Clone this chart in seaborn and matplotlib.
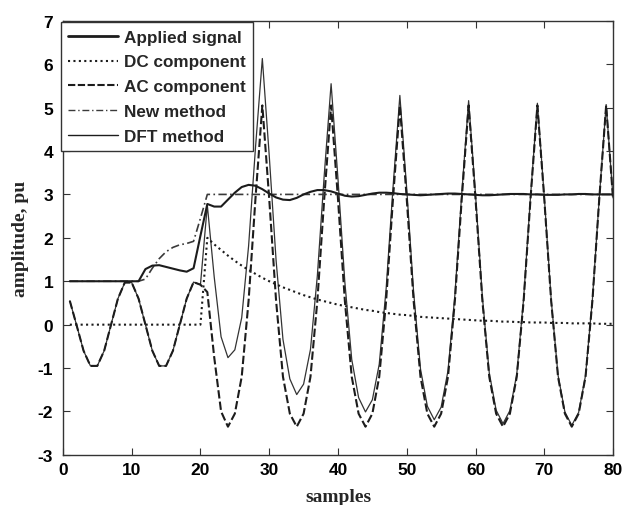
import numpy as np
import pandas as pd
import matplotlib
matplotlib.use("Agg")
import matplotlib.pyplot as plt
import seaborn as sns
from matplotlib.lines import Line2D

# sample index
samples = np.arange(1, 81)

# values
applied = [0.55, -0.02, -0.6, -0.95, -0.95, -0.6, 0.0, 0.6, 0.97, 0.97,
           0.6, 0.0, -0.6, -0.95, -0.95, -0.6, 0.0, 0.6, 0.98, 0.92,
           2.75, 1.10, -0.28, -0.76, -0.58, 0.16, 1.81, 4.07, 6.13, 3.90,
           1.48, -0.34, -1.25, -1.61, -1.37, -0.57, 1.13, 3.44, 5.55, 3.36,
           0.98, -0.80, -1.68, -2.01, -1.73, -0.91, 0.82, 3.15, 5.28, 3.12,
           0.75, -1.02, -1.88, -2.19, -1.90, -1.06, 0.68, 3.02, 5.16, 3.00,
           0.64, -1.11, -1.97, -2.28, -1.98, -1.14, 0.61, 2.95, 5.10, 2.95,
           0.59, -1.16, -2.01, -2.32, -2.02, -1.17, 0.58, 2.92, 5.07, 2.92]

dc_component = [0.0] * 20 + [
    2.00, 1.85, 1.72, 1.59, 1.47, 1.36, 1.26, 1.17, 1.08, 1.00,
    0.93, 0.86, 0.80, 0.74, 0.68, 0.63, 0.58, 0.54, 0.50, 0.46,
    0.43, 0.40, 0.37, 0.34, 0.32, 0.29, 0.27, 0.25, 0.23, 0.22,
    0.20, 0.18, 0.17, 0.16, 0.15, 0.14, 0.13, 0.12, 0.11, 0.10,
    0.09, 0.09, 0.08, 0.07, 0.07, 0.06, 0.06, 0.05, 0.05, 0.05,
    0.04, 0.04, 0.04, 0.03, 0.03, 0.03, 0.03, 0.02, 0.02, 0.02]

ac_component = [0.55, -0.02, -0.6, -0.95, -0.95, -0.6, 0.0, 0.6, 0.97, 0.97,
                0.6, 0.0, -0.6, -0.95, -0.95, -0.6, 0.0, 0.6, 0.98, 0.92,
                0.75, -0.75, -2.0, -2.35, -2.05, -1.2, 0.55, 2.9, 5.05, 2.9,
                0.55, -1.2, -2.05, -2.35, -2.05, -1.2, 0.55, 2.9, 5.05, 2.9,
                0.55, -1.2, -2.05, -2.35, -2.05, -1.2, 0.55, 2.9, 5.05, 2.9,
                0.55, -1.2, -2.05, -2.35, -2.05, -1.2, 0.55, 2.9, 5.05, 2.9,
                0.55, -1.2, -2.05, -2.35, -2.05, -1.2, 0.55, 2.9, 5.05, 2.9,
                0.55, -1.2, -2.05, -2.35, -2.05, -1.2, 0.55, 2.9, 5.05, 2.9]

new_method = [1.0] * 11 + [1.05, 1.3, 1.52, 1.68, 1.78, 1.84, 1.87, 1.92, 2.45] + [3.0] * 60

dft_method = [1.0] * 11 + [
    1.28, 1.36, 1.37, 1.33, 1.29, 1.25, 1.22, 1.30, 2.05,
    2.78, 2.72, 2.72, 2.88, 3.04, 3.17, 3.22, 3.20, 3.12, 3.02,
    2.93, 2.88, 2.87, 2.92, 3.00, 3.06, 3.10, 3.10, 3.07, 3.02,
    2.97, 2.95, 2.96, 2.99, 3.02, 3.04, 3.04, 3.03, 3.01, 3.00,
    2.99, 2.98, 2.99, 3.00, 3.01, 3.02, 3.02, 3.01, 3.00, 2.99,
    2.98, 2.98, 2.99, 3.00, 3.01, 3.01, 3.01, 3.00, 3.00, 2.99,
    2.99, 2.99, 3.00, 3.00, 3.01, 3.01, 3.00, 3.00, 3.00, 3.00]

labels = ["Applied signal", "DC component", "AC component", "New method", "DFT method"]

df = pd.DataFrame({
    "samples": samples,
    "applied": applied,
    "dc": dc_component,
    "ac": ac_component,
    "new": new_method,
    "dft": dft_method,
})

sns.set_style("ticks")
plt.rcParams["font.family"] = ["Liberation Sans", "DejaVu Sans"]
plt.rcParams["axes.unicode_minus"] = False

fig = plt.figure(figsize=(6.23, 5.06), dpi=100)
ax = fig.add_axes([0.101, 0.099, 0.883, 0.858])

ink = "#1c1c1c"
sns.lineplot(data=df, x="samples", y="applied", ax=ax, color="#333333", lw=0.9)
sns.lineplot(data=df, x="samples", y="dc", ax=ax, color=ink, lw=1.5, linestyle=(0, (1, 1.6)))
sns.lineplot(data=df, x="samples", y="ac", ax=ax, color=ink, lw=1.5, linestyle=(0, (4, 1.5)))
sns.lineplot(data=df, x="samples", y="new", ax=ax, color="#3a3a3a", lw=1.2, linestyle=(0, (5, 2, 1, 2)))
sns.lineplot(data=df, x="samples", y="dft", ax=ax, color=ink, lw=1.5)

ax.set_xlim(0, 80)
ax.set_ylim(-3, 7)
ax.set_xticks(range(0, 81, 10))
ax.set_yticks(range(-3, 8))
ax.tick_params(direction="in", length=5, width=0.8, top=True, right=True, colors="#333333",
               labelcolor="black", labelsize=12.5)
for lab in ax.get_xticklabels() + ax.get_yticklabels():
    lab.set_fontweight("bold")
ax.tick_params(axis="y", pad=7)
ax.tick_params(axis="x", pad=5)
for sp in ax.spines.values():
    sp.set_visible(True)
    sp.set_color("#333333")
    sp.set_linewidth(1.0)

ax.set_xlabel("samples", family="Liberation Serif", fontweight="bold", fontsize=14, labelpad=8)
ax.set_ylabel("amplitude, pu", family="Liberation Serif", fontweight="bold", fontsize=14, labelpad=6)

handles = [
    Line2D([], [], color=ink, lw=2.0),
    Line2D([], [], color=ink, lw=1.5, linestyle=(0, (1, 1.6))),
    Line2D([], [], color=ink, lw=1.5, linestyle=(0, (3.5, 1.2))),
    Line2D([], [], color="#3a3a3a", lw=1.0, linestyle=(0, (5, 2, 1, 2))),
    Line2D([], [], color=ink, lw=1.0),
]
leg = ax.legend(handles, labels, loc="upper left", bbox_to_anchor=(-0.004, 0.997),
                borderaxespad=0, frameon=True, fancybox=False, framealpha=1,
                edgecolor="#333333", handlelength=2.9, handletextpad=0.35,
                labelspacing=0.57, borderpad=0.45,
                prop={"weight": "bold", "size": 12.3})
leg.get_frame().set_linewidth(1.0)

fig.savefig("out.png", dpi=100)
